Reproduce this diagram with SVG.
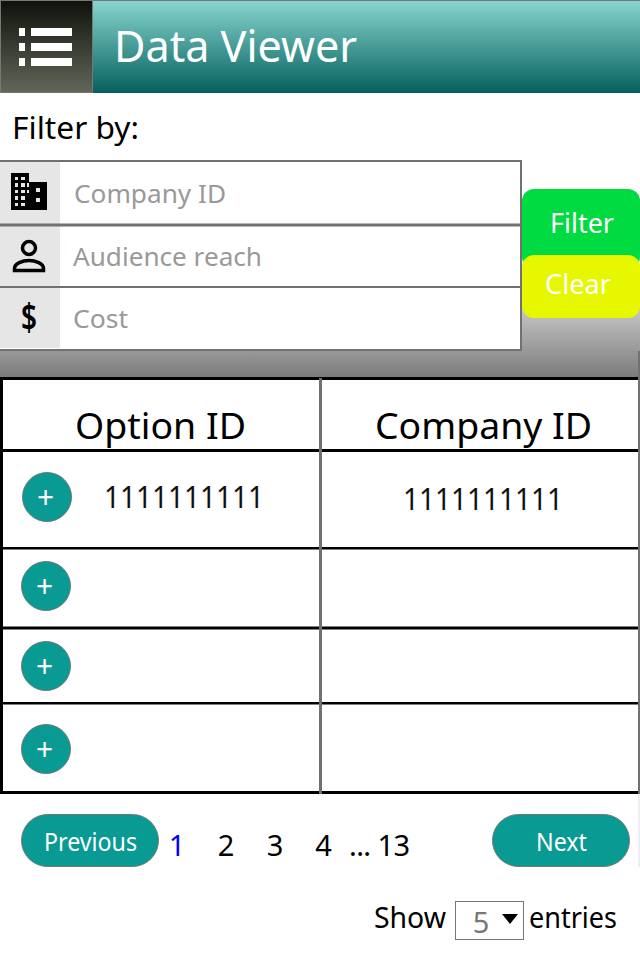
<svg xmlns="http://www.w3.org/2000/svg" width="640" height="960" viewBox="0 0 640 960">
<style>
text{font-family:"Noto Sans","Open Sans","Liberation Sans",sans-serif}
.ph{font-size:26px;fill:#999}
.rowline{fill:#000}
.inp{fill:#fff}
.ib{fill:#e6e6e6}
.sep{fill:#717171}
.add{fill:#089a93;stroke:#777;stroke-width:1}
.plus{font-size:30px;fill:#fff;text-anchor:middle}
.pg{font-size:29px;fill:#000}
.btn{font-size:27px;fill:#fff}
.btns{font-size:25px;fill:#fff}
.cell{font-size:30px;fill:#111}
.hd{font-size:37px;fill:#000}
</style>
<defs>
<linearGradient id="g1" x1="0" y1="0" x2="0" y2="1"><stop offset="0" stop-color="#88d6cf"/><stop offset="1" stop-color="#04605d"/></linearGradient>
<linearGradient id="g2" x1="0" y1="0" x2="0" y2="1"><stop offset="0" stop-color="#0e120a"/><stop offset="1" stop-color="#62665a"/></linearGradient>
<linearGradient id="g3" x1="0" y1="0" x2="0" y2="1"><stop offset="0" stop-color="#fff"/><stop offset="1" stop-color="#7c7c7c"/></linearGradient>
</defs>
<rect width="640" height="960" fill="#fff"/>
<g id="header">
<rect x="0" y="0" width="640" height="93" fill="url(#g1)"/>
<rect x="0" y="0" width="640" height="1" fill="#777"/>
<text x="114" y="62" font-size="44" fill="#fff" textLength="243" lengthAdjust="spacingAndGlyphs">Data Viewer</text>
</g>
<g id="menu">
<rect x="0.5" y="0.5" width="92" height="92" fill="url(#g2)" stroke="#777"/>
<path fill="#fff" d="M19 28h6v8h-6zM31 28h41v8H31zM19 43h6v8h-6zM31 43h41v8H31zM19 58h6v8h-6zM31 58h41v8H31z"/>
</g>
<text id="filter-label" x="12" y="139" font-size="31" fill="#000" textLength="127" lengthAdjust="spacingAndGlyphs">Filter by:</text>
<rect id="panel" x="0" y="255" width="640" height="122" fill="url(#g3)"/>
<g id="field-company">
<rect class="inp" x="0" y="161" width="521" height="64"/>
<rect class="ib" x="0" y="162" width="60" height="62"/>
<path fill="#000" fill-rule="evenodd" d="M11 173h18v9h18v28H11zM15 177v3h3v-3zM21 177v3h4v-3zM15 183v4h3v-4zM21 183v4h4v-4zM27 183v4h2v-4zM15 190v3h3v-3zM21 190v3h4v-3zM27 190v3h2v-3zM15 196v4h3v-4zM21 196v4h4v-4zM15 203v3h3v-3zM21 203v3h4v-3zM36 188v4h4v-4zM36 198v4h4v-4z"/>
<text class="ph" x="74" y="203" textLength="152" lengthAdjust="spacingAndGlyphs">Company ID</text>
</g>
<g id="field-audience">
<rect class="inp" x="0" y="225" width="521" height="62"/>
<rect class="ib" x="0" y="226" width="60" height="60"/>
<circle cx="29" cy="248" r="6.500" fill="none" stroke="#000" stroke-width="3.500"/>
<path fill="none" stroke="#000" stroke-width="3.500" d="M14.500 270.500v-2c0-5 8-8 14.500-8s14.500 3 14.500 8v2z"/>
<text class="ph" x="73" y="266" textLength="189" lengthAdjust="spacingAndGlyphs">Audience reach</text>
</g>
<g id="field-cost">
<rect class="inp" x="0" y="287" width="521" height="63"/>
<rect class="ib" x="0" y="288" width="60" height="60"/>
<text x="21" y="331" font-size="37" font-weight="600" fill="#000" textLength="16" lengthAdjust="spacingAndGlyphs">$</text>
<text class="ph" x="73" y="328" textLength="55" lengthAdjust="spacingAndGlyphs">Cost</text>
</g>
<g id="field-borders">
<rect class="sep" x="0" y="160" width="522" height="2"/>
<rect class="sep" x="0" y="223.500" width="522" height="3"/>
<rect class="sep" x="0" y="286" width="522" height="2"/>
<rect class="sep" x="0" y="349" width="522" height="2"/>
<rect class="sep" x="520" y="160" width="2" height="191"/>
</g>
<g id="btn-filter">
<rect x="522" y="189" width="118" height="80" rx="12" fill="#00db41"/>
<text class="btn" x="550" y="233" textLength="64" lengthAdjust="spacingAndGlyphs">Filter</text>
</g>
<g id="btn-clear">
<rect x="522" y="255" width="118" height="63" rx="12" fill="#e6f700"/>
<text class="btn" x="545" y="294" textLength="66" lengthAdjust="spacingAndGlyphs">Clear</text>
</g>
<g id="table">
<rect x="0" y="377" width="640" height="417" fill="#fff"/>
<g class="rowline">
<rect x="0" y="377" width="640" height="3"/>
<rect x="0" y="449" width="640" height="3"/>
<rect x="0" y="547" width="640" height="2.500"/>
<rect x="0" y="626.500" width="640" height="3"/>
<rect x="0" y="702" width="640" height="2.500"/>
<rect x="0" y="791" width="640" height="3"/>
<rect x="0" y="377" width="3" height="417"/>
</g>
<rect class="sep" x="319" y="378" width="3" height="416"/>
<rect class="sep" x="638" y="351" width="2" height="443"/>
<rect x="638" y="794" width="2" height="73" fill="#eee"/>
<text class="hd" x="75" y="439" textLength="171" lengthAdjust="spacingAndGlyphs">Option ID</text>
<text class="hd" x="375" y="439" textLength="217" lengthAdjust="spacingAndGlyphs">Company ID</text>
<text class="cell" x="104" y="508" textLength="160" lengthAdjust="spacingAndGlyphs">1111111111</text>
<text class="cell" x="403" y="510" textLength="160" lengthAdjust="spacingAndGlyphs">1111111111</text>
</g>
<g id="add-1"><circle class="add" cx="47" cy="497" r="24.500"/><text class="plus" x="45.500" y="508">+</text></g>
<g id="add-2"><circle class="add" cx="46" cy="586" r="24.500"/><text class="plus" x="44.500" y="597">+</text></g>
<g id="add-3"><circle class="add" cx="46" cy="666" r="24.500"/><text class="plus" x="44.500" y="677">+</text></g>
<g id="add-4"><circle class="add" cx="46" cy="749" r="24.500"/><text class="plus" x="44.500" y="760">+</text></g>
<g id="btn-prev">
<rect x="21.500" y="814.500" width="137" height="52" rx="26" fill="#089a93" stroke="#777"/>
<text class="btns" x="44" y="851" textLength="93" lengthAdjust="spacingAndGlyphs">Previous</text>
</g>
<g id="pagination">
<text class="pg" x="177" y="856" text-anchor="middle" style="fill:#0000ff">1</text>
<text class="pg" x="226" y="856" text-anchor="middle">2</text>
<text class="pg" x="275" y="856" text-anchor="middle">3</text>
<text class="pg" x="323.500" y="856" text-anchor="middle">4</text>
<text class="pg" x="349" y="856" textLength="61" lengthAdjust="spacing">... 13</text>
</g>
<g id="btn-next">
<rect x="492.500" y="814.500" width="137" height="52" rx="26" fill="#089a93" stroke="#777"/>
<text class="btns" x="536" y="851" textLength="51" lengthAdjust="spacingAndGlyphs">Next</text>
</g>
<g id="entries">
<text x="374" y="928" font-size="29" fill="#000" textLength="72" lengthAdjust="spacingAndGlyphs">Show</text>
<rect x="455.500" y="901.500" width="68" height="38" fill="#fff" stroke="#777"/>
<text x="481" y="933" font-size="29" fill="#777" text-anchor="middle">5</text>
<path d="M502 914h16l-8 10z" fill="#000"/>
<text x="529" y="928" font-size="29" fill="#000" textLength="88" lengthAdjust="spacingAndGlyphs">entries</text>
</g>
</svg>
